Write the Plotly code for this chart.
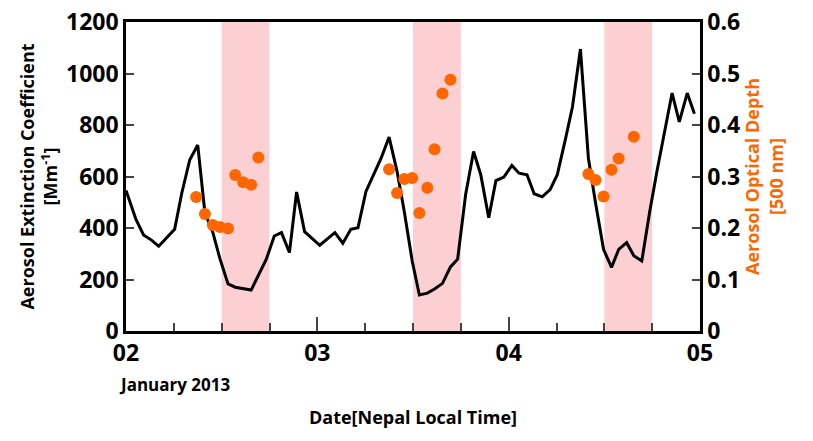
import plotly.graph_objects as go

# hours since 02 Jan 2013 00:00 (Nepal local time)
ext_hours = [0, 1.25, 2.2, 3.2, 4.1, 6.1, 7, 8, 9, 9.9, 10.9, 11.8, 12.8, 13.7, 15.7, 16.6, 17.6,
             18.6, 19.5, 20.5, 21.4, 22.4, 24.3, 25.3, 26.2, 27.2, 28.2, 29.1, 30.1, 32, 33, 34,
             34.9, 35.9, 36.8, 37.8, 38.7, 39.7, 40.7, 41.6, 42.6, 43.6, 44.5, 45.5, 46.4, 47.4,
             48.4, 49.3, 50.3, 51.2, 52.2, 53.2, 54.1, 55.1, 56, 57, 58, 58.9, 59.9, 60.9, 61.8,
             62.8, 63.7, 64.7, 65.7, 66.6, 67.6, 68.5, 69.4, 70.4, 71.3]
ext_coef = [546, 433, 373, 353, 329, 395, 536, 665, 722, 459, 382, 279, 183, 170, 159, 215, 279,
            369, 382, 305, 540, 386, 333, 359, 382, 341, 395, 401, 542, 671, 753, 620,
            465, 272, 140, 147, 163, 185, 249, 279, 530, 697, 607, 440, 584, 598,
            643, 613, 607, 533, 521, 549, 607, 742, 870, 1095, 671, 497, 317, 247, 317,
            343, 292, 272, 465, 620, 780, 924, 812, 924, 844]

aod_hours = [8.8, 9.9, 10.9, 11.8, 12.8, 13.7, 14.7, 15.7, 16.6,
             33, 34, 34.9, 35.9, 36.8, 37.8, 38.7, 39.7, 40.7,
             58, 58.9, 59.9, 60.9, 61.8, 63.7]
aod = [0.260, 0.227, 0.206, 0.202, 0.199, 0.303, 0.289, 0.284, 0.337,
       0.314, 0.268, 0.295, 0.297, 0.229, 0.278, 0.353, 0.461, 0.488,
       0.305, 0.293, 0.261, 0.313, 0.335, 0.377]

shade_windows = [(12, 18), (36, 42), (60, 66)]
day_ticks = [0, 24, 48, 72]
day_labels = ["02", "03", "04", "05"]

fig = go.Figure()
for x0, x1 in shade_windows:
    fig.add_vrect(x0=x0, x1=x1, fillcolor="rgba(245,120,130,0.35)", line_width=0, layer="below")

fig.add_trace(go.Scatter(x=ext_hours, y=ext_coef, mode="lines",
                         line=dict(color="black", width=3), showlegend=False))
fig.add_trace(go.Scatter(x=aod_hours, y=aod, mode="markers", yaxis="y2",
                         marker=dict(color="#ff6600", size=12), showlegend=False))

fam = "Open Sans, Liberation Sans, Arial"
tickfont = dict(family=fam, size=23, color="black", weight="bold")
titlefont = dict(family=fam, size=18, color="black", weight="bold")
fig.update_layout(
    width=813, height=441, plot_bgcolor="white", paper_bgcolor="white",
    margin=dict(l=118, r=121, t=14, b=118, autoexpand=False),
    font=dict(family=fam, color="black"),
    xaxis=dict(range=[0, 72], tickvals=day_ticks, ticktext=day_labels, ticks="inside",
               ticklen=14, tickwidth=2, showline=True, linewidth=2.5, linecolor="black",
               mirror=True, showgrid=False, zeroline=False, tickfont=tickfont, automargin=False,
               ticklabeloverflow="allow",
               minor=dict(dtick=6, tick0=0, ticks="inside", ticklen=8, tickwidth=2),
               title=dict(text="Date[Nepal Local Time]", font=titlefont, standoff=45)),
    yaxis=dict(range=[0, 1200], dtick=200, ticks="inside", ticklen=8, tickwidth=2,
               showline=True, linewidth=2.5, linecolor="black", showgrid=False, zeroline=False,
               tickfont=tickfont, automargin=False, ticklabeloverflow="allow",
               title=dict(text="Aerosol Extinction Coefficient<br>[Mm<sup>-1</sup>]",
                          font=titlefont, standoff=4)),
    yaxis2=dict(range=[0, 0.6], dtick=0.1, overlaying="y", side="right", ticks="inside",
                ticklen=8, tickwidth=2, showline=True, linewidth=2.5, linecolor="black",
                showgrid=False, zeroline=False, tickformat="~g", tickfont=tickfont, automargin=False,
                ticklabeloverflow="allow",
                title=dict(text="Aerosol Optical Depth<br>[500 nm]",
                           font=dict(family=fam, size=18, color="#ff6600", weight="bold"), standoff=4)),
)
fig.add_annotation(text="<b>January 2013</b>", x=-0.015, y=-0.13, xref="paper", yref="paper",
                   xanchor="left", yanchor="top", showarrow=False,
                   font=dict(family=fam, size=17, color="black"))
fig.write_html("out.html")
